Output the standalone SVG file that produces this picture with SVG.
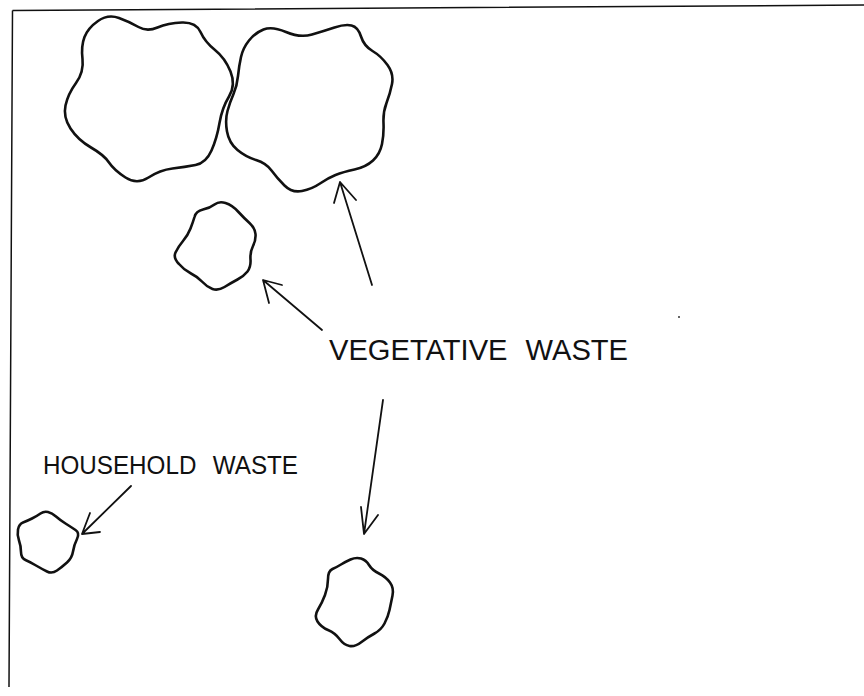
<svg xmlns="http://www.w3.org/2000/svg" width="864" height="696" viewBox="0 0 864 696">
<style>
.bg{fill:#ffffff}
.frame{fill:none;stroke:#111;stroke-width:1.5}
.blob{fill:none;stroke:#111;stroke-width:2.6;stroke-linejoin:round}
.arrow{fill:none;stroke:#111;stroke-width:1.8;stroke-linecap:round;stroke-linejoin:round}
.lbl{font-family:"Liberation Sans",Arial,sans-serif;fill:#111}
</style>
<rect class="bg" x="0" y="0" width="864" height="696"/>
<path class="frame" d="M12.5,10.5 L864,5 M12.5,10.5 L9,687"/>

<g id="cloud-top-left">
<path class="blob" d="M84.5,37 Q88,28 98,21 Q108,14 119,18 Q130,22 138.5,27 Q147,32 157.5,27.5 Q168,23 182,22.5 Q196,22 200.5,32 Q205,42 215,50 Q225,58 230.5,71.5 Q236,85 229,96.5 Q222,108 219.5,123 Q217,138 211.5,150.5 Q206,163 195.5,165 Q185,167 172.5,168.5 Q160,170 148.5,177.5 Q137,185 125.5,177.5 Q114,170 109,162.5 Q104,155 91,147.5 Q78,140 70.5,128.5 Q63,117 65.5,105.5 Q68,94 76,83 Q84,72 82.5,59 Q81,46 84.5,37 Z"/>
</g>

<g id="cloud-top-right">
<path class="blob" d="M241,57 Q243,48 249,40.5 Q255,33 263.5,29.5 Q272,26 286,32 Q300,38 312,34.5 Q324,31 334.5,27.5 Q345,24 351.5,25.5 Q358,27 361,36.5 Q364,46 372.5,51 Q381,56 387.5,65 Q394,74 392,84 Q390,94 386.5,103 Q383,112 383.5,123 Q384,134 382,144 Q380,154 373,160.5 Q366,167 354.5,169.5 Q343,172 335.5,175 Q328,178 320,183.5 Q312,189 302,191 Q292,193 284.5,185.5 Q277,178 271.5,170.5 Q266,163 256,160 Q246,157 237.5,150 Q229,143 227,131.5 Q225,120 227.5,111 Q230,102 233.5,94 Q237,86 238,76 Q239,66 241,57 Z"/>
</g>

<g id="cloud-middle">
<path class="blob" d="M194.5,217 Q196,211 203,209.5 Q210,208 214.5,204.5 Q219,201 225.5,203 Q232,205 238,211.5 Q244,218 249.5,223 Q255,228 255.5,234 Q256,240 253,246 Q250,252 250.5,259.5 Q251,267 247.5,271.5 Q244,276 237.5,279.5 Q231,283 224.5,287 Q218,291 212.5,289 Q207,287 202.5,282 Q198,277 191,273.5 Q184,270 179,264 Q173,258 175.5,252.5 Q178,247 183,241 Q188,235 190.5,228.5 Q193,222 194.5,217 Z"/>
</g>

<g id="cloud-household">
<path class="blob" d="M18,529.5 Q19,524 23,522.5 Q27,521 32,518.5 Q37,516 40.5,513.5 Q44,511 48,512 Q52,513 56,516.5 Q60,520 65.5,523.5 Q71,527 75.5,530 Q80,533 77,539 Q74,545 73,551.5 Q72,558 67,562.5 Q62,567 57,570.5 Q52,574 47,571.5 Q42,569 36,565.5 Q30,562 25.5,560 Q21,558 21,552 Q21,546 19,540.5 Q17,535 18,529.5 Z"/>
</g>

<g id="cloud-bottom">
<path class="blob" d="M341,564.5 Q345,562 350.5,559.5 Q356,557 361,558.5 Q366,560 369,565 Q372,570 379,573.5 Q386,577 390,582.5 Q394,588 392.5,595.5 Q391,603 389.5,610 Q388,617 384.5,623.5 Q381,630 374.5,633.5 Q368,637 361.5,642 Q355,647 349.5,646 Q344,645 339.5,639 Q335,633 328,630 Q321,627 317.5,621.5 Q314,616 318,609.5 Q322,603 325,595 Q328,587 328,579 Q328,571 332.5,569 Q337,567 341,564.5 Z"/>
</g>

<g id="connectors">
<path class="arrow" d="M372,285 L340,182 M334,203 L340,182 L356,200"/>
<path class="arrow" d="M322,330 L263,280 M269,303 L263,280 L282,285"/>
<path class="arrow" d="M383,400 L364,534 M361,507 L364,534 L378,515"/>
<path class="arrow" d="M131,486 L82,534 M90,513 L82,534 L100,532"/>
</g>

<g id="label-vegetative">
<text class="lbl" x="329" y="360" font-size="29" word-spacing="10" textLength="299" lengthAdjust="spacingAndGlyphs">VEGETATIVE WASTE</text>
</g>
<g id="label-household">
<text class="lbl" x="43" y="474" font-size="25" word-spacing="10" textLength="255" lengthAdjust="spacingAndGlyphs">HOUSEHOLD WASTE</text>
</g>

<circle cx="679" cy="317" r="1" fill="#333"/>
</svg>
